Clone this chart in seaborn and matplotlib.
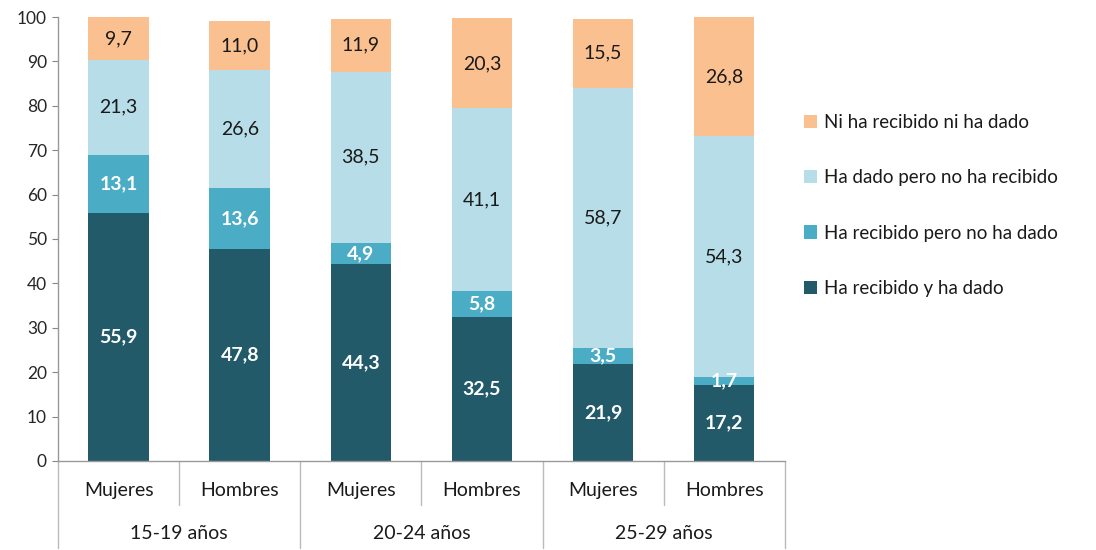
import pandas as pd
import matplotlib
matplotlib.use("Agg")
import matplotlib.pyplot as plt
import seaborn as sns

# Data
grupos = ["15-19 años", "20-24 años", "25-29 años"]
sexos = ["Mujeres", "Hombres"]
series = ["Ha recibido y ha dado", "Ha recibido pero no ha dado",
          "Ha dado pero no ha recibido", "Ni ha recibido ni ha dado"]
recibido_dado = [55.9, 47.8, 44.3, 32.5, 21.9, 17.2]
recibido_no_dado = [13.1, 13.6, 4.9, 5.8, 3.5, 1.7]
dado_no_recibido = [21.3, 26.6, 38.5, 41.1, 58.7, 54.3]
ni_ni = [9.7, 11.0, 11.9, 20.3, 15.5, 26.8]

colores = ["#235a6a", "#4bacc6", "#b7dde8", "#fac090"]
color_texto = ["white", "white", "#1a1a1a", "#1a1a1a"]
peso_texto = ["bold", "bold", "normal", "normal"]

sns.set_style("white")
plt.rcParams['font.family'] = ['Lato', 'DejaVu Sans']

barras = [f"{g}|{s}" for g in grupos for s in sexos]
valores = [recibido_dado, recibido_no_dado, dado_no_recibido, ni_ni]

fig = plt.figure(figsize=(10.96, 5.5), dpi=100)
ax = fig.add_axes([0.053, 0.162, 0.663, 0.807])

bottom = [0.0] * len(barras)
for i, serie in enumerate(series):
    df = pd.DataFrame({"barra": barras, "valor": valores[i]})
    sns.barplot(data=df, x="barra", y="valor", color=colores[i], width=0.5,
                bottom=bottom, ax=ax, label=serie, saturation=1, errorbar=None,
                linewidth=0, legend=False)
    for j, v in enumerate(valores[i]):
        ax.text(j, bottom[j] + v / 2, f"{v:.1f}".replace(".", ","),
                ha="center", va="center", fontsize=14,
                color=color_texto[i], fontweight=peso_texto[i])
    bottom = [b + v for b, v in zip(bottom, valores[i])]

ax.set_ylim(0, 100)
ax.set_xlim(-0.5, 5.5)
ax.set_yticks(range(0, 101, 10))
ax.tick_params(axis="y", labelsize=12.5, length=4, color="#888888", left=True, pad=4)
ax.set_xticks([])
ax.set_xlabel("")
ax.set_ylabel("")
for s in ["top", "right"]:
    ax.spines[s].set_visible(False)
for s in ["left", "bottom"]:
    ax.spines[s].set_color("#999999")
    ax.spines[s].set_linewidth(1)

# two-level category axis
trans = ax.get_xaxis_transform()
for k in range(7):
    x = k - 0.5
    y_fin = -0.196 if k % 2 == 0 else -0.099
    ax.plot([x, x], [0, y_fin], color="#bbbbbb", lw=1, transform=trans, clip_on=False)
for j, b in enumerate(barras):
    ax.text(j, -0.066, b.split("|")[1], transform=trans, ha="center", va="center",
            fontsize=14, color="#1a1a1a")
for g, nombre in enumerate(grupos):
    ax.text(2 * g + 0.5, -0.163, nombre, transform=trans, ha="center", va="center",
            fontsize=14, color="#1a1a1a")

# legend (reverse order)
h, l = ax.get_legend_handles_labels()
if ax.get_legend() is not None:
    ax.get_legend().remove()
fig.legend(h[::-1], l[::-1], loc="upper left", bbox_to_anchor=(0.718, 0.824),
           frameon=False, fontsize=13.5, handlelength=0.7, handleheight=0.7,
           labelspacing=2.05, handletextpad=0.4, labelcolor="#1a1a1a")

plt.savefig("out.png", dpi=100)
